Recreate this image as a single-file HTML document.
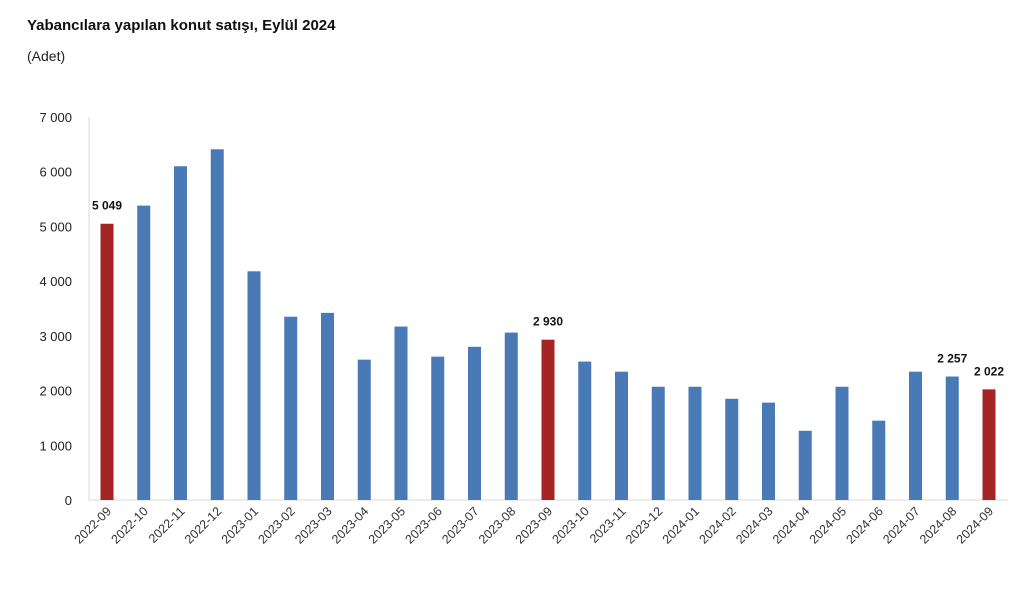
<!DOCTYPE html>
<html><head><meta charset="utf-8"><style>
body{margin:0;background:#fff;width:1024px;height:598px;overflow:hidden;font-family:"Liberation Sans",sans-serif}
</style></head><body>
<svg width="1024" height="598" id="c">
<text x="27" y="30" font-size="15" font-weight="bold" fill="#111">Yabancılara yapılan konut satışı, Eylül 2024</text>
<text x="27" y="61" font-size="14" fill="#222">(Adet)</text>
<line x1="89" y1="117" x2="89" y2="500" stroke="#d9d9d9"/>
<line x1="89" y1="500" x2="1008" y2="500" stroke="#d9d9d9"/>
</svg>
<script>
const categories=["2022-09","2022-10","2022-11","2022-12","2023-01","2023-02","2023-03","2023-04","2023-05","2023-06","2023-07","2023-08","2023-09","2023-10","2023-11","2023-12","2024-01","2024-02","2024-03","2024-04","2024-05","2024-06","2024-07","2024-08","2024-09"];
const values=[5049,5380,6100,6410,4180,3350,3420,2565,3170,2620,2800,3060,2930,2530,2345,2070,2070,1850,1780,1265,2070,1450,2345,2257,2022];
const highlighted=["2022-09","2023-09","2024-09"];
const labelled=["2022-09","2023-09","2024-08","2024-09"];
const yTicks=[0,1000,2000,3000,4000,5000,6000,7000];
const svg=document.getElementById('c');const NS="http://www.w3.org/2000/svg";
const y=v=>500-v*(383/7000);
const x=i=>107+i*36.75;
const fmt=v=>String(v).replace(/\B(?=(\d{3})+(?!\d))/g," ");
function mk(t,a){const e=document.createElementNS(NS,t);for(const k in a)e.setAttribute(k,a[k]);svg.appendChild(e);return e;}
yTicks.forEach(t=>{const e=mk('text',{x:72,y:y(t)+5,'text-anchor':'end','font-size':13,fill:'#222'});e.textContent=fmt(t);

});
categories.forEach((c,i)=>{const v=values[i];const hl=highlighted.includes(c);
const r=mk('rect',{x:x(i)-6.5,y:y(v),width:13,height:500-y(v),fill:hl?'#a52424':'#4a7ab5'});


const t=mk('text',{x:0,y:0,'text-anchor':'end','font-size':12.5,fill:'#333',transform:`translate(${x(i)+5},${512}) rotate(-45)`});t.textContent=c;


if(labelled.includes(c)){const l=mk('text',{x:x(i),y:y(v)-14,'text-anchor':'middle','font-size':12,'font-weight':'bold',fill:'#111'});l.textContent=fmt(v);

}
});
</script>
</body></html>
